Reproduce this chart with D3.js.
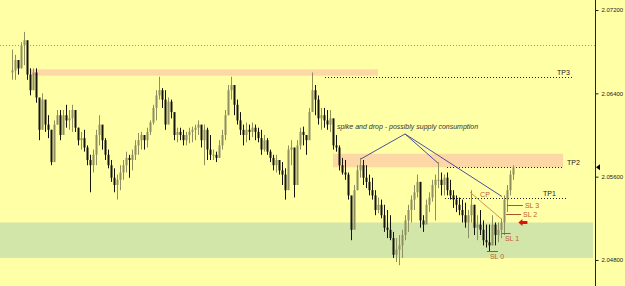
<!DOCTYPE html>
<html>
<head>
<meta charset="utf-8">
<script src="https://cdn.jsdelivr.net/npm/d3@7"></script>
<style>
  body { margin: 0; background: #ffffa6; }
  svg { display: block; }
  text { font-family: "Liberation Sans", Arial, sans-serif; }
</style>
</head>
<body>
<div id="chart"></div>
<script>
// bar data (oldest first)
var highs = [
  2.0682, 2.0677, 2.0672, 2.0689, 2.0699, 2.0677, 2.0664, 2.0664, 2.0664, 2.0634,
  2.0640, 2.0624, 2.0619, 2.0605, 2.0614, 2.0624, 2.0624, 2.0624, 2.0629, 2.0624,
  2.0629, 2.0624, 2.0607, 2.0603, 2.0605, 2.0590, 2.0581, 2.0586, 2.0605, 2.0619,
  2.0600, 2.0597, 2.0586, 2.0576, 2.0568, 2.0562, 2.0571, 2.0576, 2.0584, 2.0581,
  2.0586, 2.0595, 2.0602, 2.0603, 2.0600, 2.0607, 2.0614, 2.0629, 2.0643, 2.0656,
  2.0645, 2.0643, 2.0636, 2.0634, 2.0616, 2.0607, 2.0607, 2.0605, 2.0603, 2.0607,
  2.0608, 2.0610, 2.0614, 2.0607, 2.0610, 2.0607, 2.0600, 2.0586, 2.0584, 2.0595,
  2.0605, 2.0624, 2.0648, 2.0656, 2.0648, 2.0634, 2.0622, 2.0610, 2.0612, 2.0610,
  2.0612, 2.0610, 2.0607, 2.0605, 2.0600, 2.0597, 2.0586, 2.0581, 2.0581, 2.0576,
  2.0574, 2.0568, 2.0590, 2.0595, 2.0576, 2.0595, 2.0607, 2.0608, 2.0600, 2.0626,
  2.0660, 2.0648, 2.0638, 2.0626, 2.0626, 2.0624, 2.0624, 2.0610, 2.0600, 2.0590,
  2.0578, 2.0576, 2.0564, 2.0538, 2.0552, 2.0571, 2.0578, 2.0576, 2.0571, 2.0562,
  2.0559, 2.0547, 2.0540, 2.0538, 2.0533, 2.0528, 2.0523, 2.0507, 2.0501, 2.0504,
  2.0509, 2.0523, 2.0533, 2.0542, 2.0552, 2.0562, 2.0542, 2.0523, 2.0538, 2.0545,
  2.0557, 2.0562, 2.0574, 2.0564, 2.0562, 2.0564, 2.0557, 2.0547, 2.0542, 2.0540,
  2.0538, 2.0535, 2.0528, 2.0547, 2.0533, 2.0523, 2.0528, 2.0518, 2.0514, 2.0514,
  2.0523, 2.0516, 2.0516, 2.0520, 2.0542, 2.0552, 2.0566, 2.0571
];
var lows = [
  2.0653, 2.0653, 2.0658, 2.0664, 2.0667, 2.0653, 2.0638, 2.0651, 2.0631, 2.0595,
  2.0610, 2.0603, 2.0597, 2.0571, 2.0590, 2.0610, 2.0595, 2.0605, 2.0607, 2.0605,
  2.0603, 2.0603, 2.0590, 2.0586, 2.0584, 2.0571, 2.0545, 2.0564, 2.0571, 2.0590,
  2.0586, 2.0576, 2.0568, 2.0555, 2.0545, 2.0538, 2.0547, 2.0557, 2.0564, 2.0559,
  2.0566, 2.0576, 2.0581, 2.0586, 2.0586, 2.0588, 2.0600, 2.0610, 2.0614, 2.0634,
  2.0626, 2.0605, 2.0619, 2.0616, 2.0595, 2.0593, 2.0595, 2.0590, 2.0590, 2.0592,
  2.0593, 2.0595, 2.0600, 2.0588, 2.0571, 2.0576, 2.0576, 2.0576, 2.0574, 2.0578,
  2.0586, 2.0595, 2.0619, 2.0634, 2.0619, 2.0610, 2.0600, 2.0590, 2.0593, 2.0595,
  2.0598, 2.0595, 2.0593, 2.0581, 2.0584, 2.0581, 2.0574, 2.0566, 2.0564, 2.0562,
  2.0552, 2.0538, 2.0568, 2.0571, 2.0540, 2.0566, 2.0586, 2.0590, 2.0581, 2.0603,
  2.0624, 2.0619, 2.0610, 2.0605, 2.0607, 2.0605, 2.0603, 2.0586, 2.0584, 2.0566,
  2.0562, 2.0557, 2.0538, 2.0499, 2.0523, 2.0547, 2.0559, 2.0552, 2.0549, 2.0542,
  2.0538, 2.0523, 2.0525, 2.0520, 2.0507, 2.0501, 2.0499, 2.0482, 2.0478, 2.0475,
  2.0482, 2.0499, 2.0507, 2.0516, 2.0528, 2.0540, 2.0511, 2.0507, 2.0516, 2.0526,
  2.0536, 2.0518, 2.0549, 2.0542, 2.0542, 2.0542, 2.0538, 2.0530, 2.0526, 2.0523,
  2.0516, 2.0511, 2.0501, 2.0516, 2.0504, 2.0499, 2.0504, 2.0494, 2.0492, 2.0488,
  2.0494, 2.0494, 2.0497, 2.0501, 2.0504, 2.0526, 2.0542, 2.0557
];
var closes = [
  2.0662, 2.0672, 2.0664, 2.0686, 2.0691, 2.0658, 2.0643, 2.0660, 2.0636, 2.0605,
  2.0634, 2.0610, 2.0605, 2.0574, 2.0610, 2.0619, 2.0600, 2.0619, 2.0614, 2.0616,
  2.0624, 2.0607, 2.0595, 2.0597, 2.0588, 2.0576, 2.0571, 2.0581, 2.0600, 2.0610,
  2.0595, 2.0581, 2.0571, 2.0559, 2.0552, 2.0557, 2.0564, 2.0571, 2.0578, 2.0576,
  2.0581, 2.0590, 2.0595, 2.0600, 2.0595, 2.0603, 2.0612, 2.0626, 2.0638, 2.0643,
  2.0634, 2.0610, 2.0632, 2.0622, 2.0600, 2.0603, 2.0600, 2.0595, 2.0600, 2.0603,
  2.0605, 2.0607, 2.0610, 2.0595, 2.0605, 2.0586, 2.0581, 2.0581, 2.0578, 2.0590,
  2.0600, 2.0619, 2.0643, 2.0648, 2.0629, 2.0614, 2.0605, 2.0600, 2.0605, 2.0603,
  2.0607, 2.0603, 2.0597, 2.0586, 2.0595, 2.0584, 2.0578, 2.0571, 2.0576, 2.0566,
  2.0562, 2.0547, 2.0586, 2.0588, 2.0552, 2.0590, 2.0603, 2.0600, 2.0595, 2.0622,
  2.0643, 2.0634, 2.0616, 2.0619, 2.0614, 2.0610, 2.0616, 2.0590, 2.0588, 2.0571,
  2.0564, 2.0562, 2.0542, 2.0509, 2.0547, 2.0566, 2.0571, 2.0559, 2.0555, 2.0547,
  2.0542, 2.0528, 2.0533, 2.0523, 2.0511, 2.0509, 2.0501, 2.0485, 2.0490, 2.0494,
  2.0504, 2.0518, 2.0528, 2.0538, 2.0545, 2.0555, 2.0518, 2.0514, 2.0533, 2.0540,
  2.0552, 2.0557, 2.0557, 2.0552, 2.0559, 2.0547, 2.0542, 2.0538, 2.0533, 2.0528,
  2.0523, 2.0516, 2.0523, 2.0533, 2.0511, 2.0514, 2.0509, 2.0499, 2.0497, 2.0494,
  2.0514, 2.0504, 2.0509, 2.0516, 2.0538, 2.0547, 2.0562, 2.0569
];
var firstOpen = 2.0660;

// price axis
var priceTicks = [2.048, 2.056, 2.064, 2.072];

// zones: [fromBar, toBar, top, bottom] (toBar null = to the axis)
var zoneSupplyHigh = [6, 122, 2.0663, 2.0657];
var zoneSupplyMid = [107, 183.7, 2.0582, 2.0569];
var zoneDemand = [-4, null, 2.0516, 2.0482];

// horizontal levels: [name, fromBar, toBar, price]
var dottedLevel = 2.0686;
var targets = [
  ["TP3", 104.5, 187, 2.0656],
  ["TP2", 145, 183.7, 2.0569],
  ["TP1", 144.3, 184.7, 2.0540]
];
var stops = [
  ["SL 3", 165, 170.3, 2.0533],
  ["SL 2", 164.7, 169.7, 2.0524],
  ["SL 1", 163.3, 166.2, 2.0506],
  ["SL 0", 158.3, 162, 2.0489]
];
var cpLine = [[152.7, 2.0545], [163.3, 2.0519]];
var spikeLines = [
  [[116.3, 2.0577], [131, 2.0601], [142, 2.0573]],
  [[131, 2.0601], [163.3, 2.0541]]
];
var arrowAt = [168.8, 2.0516];
var lastPrice = 2.0569;
var note = "spike and drop - possibly supply consumption";

var width = 625, height = 286;
var axisX = 595;

var svg = d3.select("#chart").append("svg")
    .attr("width", width).attr("height", height);
svg.append("rect").attr("width", width).attr("height", height).attr("fill", "#ffffa6");

var x = d3.scaleLinear().domain([0, highs.length - 1]).range([12, 513]);
var y = d3.scaleLinear().domain([2.048, 2.072]).range([260, 10]);

// zones
function drawZone(z, color) {
    var x0 = x(z[0]);
    var x1 = z[1] === null ? axisX - 2 : x(z[1]);
    svg.append("rect")
        .attr("x", Math.max(0, x0)).attr("y", y(z[2]))
        .attr("width", x1 - Math.max(0, x0)).attr("height", y(z[3]) - y(z[2]))
        .attr("fill", color);
}
drawZone(zoneSupplyHigh, "#fdd8a6");
drawZone(zoneSupplyMid, "#fdd8a6");
drawZone(zoneDemand, "#d3e6a9");

// dotted grey level
svg.append("line")
    .attr("x1", 0).attr("x2", axisX)
    .attr("y1", Math.round(y(dottedLevel)) + 0.5).attr("y2", Math.round(y(dottedLevel)) + 0.5)
    .attr("stroke", "#9a9a8a").attr("stroke-width", 1).attr("stroke-dasharray", "1,2")
    .attr("shape-rendering", "crispEdges");

// target levels
targets.forEach(function (t) {
    var yy = Math.round(y(t[3])) + 0.5;
    svg.append("line")
        .attr("x1", Math.round(x(t[1]))).attr("x2", Math.round(x(t[2])))
        .attr("y1", yy).attr("y2", yy)
        .attr("stroke", "#222").attr("stroke-width", 1).attr("stroke-dasharray", "1,2")
        .attr("shape-rendering", "crispEdges");
});
svg.append("text").attr("x", x(targets[0][2]) - 16).attr("y", y(targets[0][3]) - 2)
    .attr("font-size", 7).attr("fill", "#222").text(targets[0][0]);
svg.append("text").attr("x", x(targets[1][2]) + 4).attr("y", y(targets[1][3]) - 2)
    .attr("font-size", 7).attr("fill", "#222").text(targets[1][0]);
svg.append("text").attr("x", x(targets[2][2]) - 23).attr("y", y(targets[2][3]) - 2)
    .attr("font-size", 7).attr("fill", "#222").text(targets[2][0]);

// bars
var bars = svg.append("g").attr("class", "bars");
highs.forEach(function (h, i) {
    var o = i === 0 ? firstOpen : closes[i - 1];
    var c = closes[i];
    var up = c >= o;
    var col = up ? "#8e8e60" : "#14140c";
    var xx = Math.round(x(i)) + 0.5;
    bars.append("line")
        .attr("x1", xx).attr("x2", xx)
        .attr("y1", y(h)).attr("y2", y(lows[i]))
        .attr("stroke", col).attr("stroke-width", 1);
    bars.append("rect")
        .attr("x", xx - 1).attr("width", 2)
        .attr("y", y(Math.max(o, c)))
        .attr("height", Math.max(1, Math.abs(y(o) - y(c))))
        .attr("fill", col);
});

// spike-and-drop trend lines
var line = d3.line().x(function (d) { return x(d[0]); }).y(function (d) { return y(d[1]); });
spikeLines.forEach(function (pts) {
    svg.append("path").attr("d", line(pts))
        .attr("fill", "none").attr("stroke", "#50509a").attr("stroke-width", 1);
});
svg.append("text")
    .attr("x", x(108.3)).attr("y", y(2.0606))
    .attr("font-size", 7).attr("font-style", "italic").attr("fill", "#333")
    .text(note);

// CP line
svg.append("path").attr("d", line(cpLine))
    .attr("fill", "none").attr("stroke", "#d4924c").attr("stroke-width", 1);
svg.append("text").attr("x", x(cpLine[0][0]) + 10).attr("y", y(cpLine[0][1]) + 5)
    .attr("font-size", 7).attr("fill", "#c0602c").text("CP");

// stop levels
stops.forEach(function (s, i) {
    var yy = Math.round(y(s[3])) + 0.5;
    svg.append("line")
        .attr("x1", x(s[1])).attr("x2", x(s[2]))
        .attr("y1", yy).attr("y2", yy)
        .attr("stroke", "#a8542c").attr("stroke-width", 1);
    var below = i >= 2;
    svg.append("text")
        .attr("x", below ? x(s[1]) + 3 : x(s[2]) + 2)
        .attr("y", below ? yy + 7 : yy + 2.5)
        .attr("font-size", 7).attr("fill", "#c0602c").text(s[0]);
});

// red arrow
var ax = x(arrowAt[0]), ay = y(arrowAt[1]);
svg.append("path")
    .attr("d", "M" + ax + "," + ay + "l4,-3.5v2h5v3h-5v2z")
    .attr("fill", "#e01010");

// right price axis
var axis = d3.axisRight(y).tickValues(priceTicks)
    .tickFormat(d3.format(".5f")).tickSize(3).tickPadding(3);
var ag = svg.append("g").attr("transform", "translate(" + (axisX + 0.5) + ",0)").call(axis);
ag.select(".domain").remove();
ag.selectAll("text").attr("font-size", 6).attr("fill", "#222")
    .attr("font-family", "Liberation Sans, Arial, sans-serif");
ag.selectAll("line").attr("stroke", "#222");
svg.append("line")
    .attr("x1", axisX + 0.5).attr("x2", axisX + 0.5).attr("y1", 0).attr("y2", height)
    .attr("stroke", "#222").attr("stroke-width", 1);

// last price marker
var ly = y(lastPrice);
svg.append("path")
    .attr("d", "M" + (axisX + 1) + "," + ly + "l4,-3v6z")
    .attr("fill", "#000");
</script>
</body>
</html>
